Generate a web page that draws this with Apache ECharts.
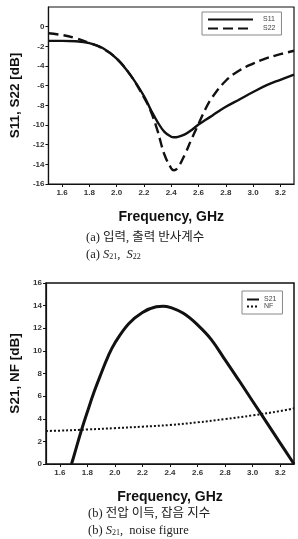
<!DOCTYPE html>
<html>
<head>
<meta charset="utf-8">
<script src="https://cdn.jsdelivr.net/npm/echarts@6/dist/echarts.min.js"></script>
<style>
  html, body { margin: 0; padding: 0; background: #fff; }
  #chart { width: 298px; height: 539px; }
</style>
</head>
<body>
<div id="chart"></div>
<script>
// top panel: reflection coefficients
const reflFreq = [1.5, 1.6, 1.7, 1.8, 1.9, 2.0, 2.1, 2.2, 2.25, 2.3, 2.35, 2.4, 2.42, 2.45, 2.5, 2.55, 2.6, 2.65, 2.7, 2.8, 2.9, 3.0, 3.1, 3.2, 3.3];
const s11 = [-1.44, -1.44, -1.48, -1.68, -2.2, -3.25, -4.9, -7.05, -8.45, -9.7, -10.7, -11.2, -11.25, -11.2, -10.95, -10.5, -9.95, -9.5, -9.05, -8.15, -7.4, -6.65, -5.95, -5.4, -4.87];
const s22 = [-0.67, -0.85, -1.17, -1.65, -2.25, -3.25, -4.9, -7.2, -8.6, -10.6, -13.0, -14.4, -14.6, -14.3, -13.0, -11.4, -9.9, -8.4, -7.2, -5.5, -4.45, -3.75, -3.2, -2.8, -2.45];

// bottom panel: gain and noise figure
const gainFreq = [1.685, 1.7, 1.75, 1.8, 1.85, 1.9, 1.95, 2.0, 2.1, 2.2, 2.3, 2.35, 2.4, 2.5, 2.6, 2.7, 2.8, 2.9, 3.0, 3.1, 3.2, 3.3];
const s21 = [0, 0.6, 2.7, 4.6, 6.4, 8.0, 9.5, 10.7, 12.4, 13.4, 13.9, 13.95, 13.85, 13.3, 12.3, 11.0, 9.2, 7.4, 5.55, 3.7, 1.85, 0];
const nfFreq = [1.5, 1.6, 1.8, 2.0, 2.2, 2.4, 2.6, 2.8, 3.0, 3.2, 3.3];
const nf = [2.92, 2.95, 3.05, 3.17, 3.3, 3.45, 3.68, 3.97, 4.3, 4.68, 4.92];

const freqTicks = [1.6, 1.8, 2.0, 2.2, 2.4, 2.6, 2.8, 3.0, 3.2];
const reflTicks = [-16, -14, -12, -10, -8, -6, -4, -2, 0];
const gainTicks = [0, 2, 4, 6, 8, 10, 12, 14, 16];

const pair = (xs, ys) => xs.map((x, i) => [x, ys[i]]);

const sans = '"Liberation Sans", Arial, sans-serif';
const serif = '"Liberation Serif", "Noto Sans CJK KR", serif';
const ink = '#111';

function xAxisFor(gridIndex) {
  return {
    type: 'value', gridIndex, min: 1.5, max: 3.3,
    name: 'Frequency, GHz', nameLocation: 'middle', nameGap: 26,
    nameTextStyle: { fontFamily: sans, fontSize: 14, fontWeight: 'bold', color: ink },
    axisLine: { onZero: false, lineStyle: { color: ink, width: 1.2 } },
    axisTick: { show: true, length: 3, customValues: freqTicks, lineStyle: { color: ink } },
    axisLabel: {
      customValues: freqTicks, margin: 5,
      fontFamily: sans, fontSize: 8, fontWeight: 'bold', color: '#333',
      formatter: v => v.toFixed(1)
    },
    splitLine: { show: false }
  };
}

function yAxisFor(gridIndex, min, max, ticks, name) {
  return {
    type: 'value', gridIndex, min, max, interval: 2,
    name, nameLocation: 'middle', nameGap: 24, nameRotate: 90,
    nameTextStyle: { fontFamily: sans, fontSize: 13.5, fontWeight: 'bold', color: ink },
    axisLine: { show: true, onZero: false, lineStyle: { color: ink, width: 1.2 } },
    axisTick: { show: true, length: 3, customValues: ticks, lineStyle: { color: ink } },
    axisLabel: {
      customValues: ticks, margin: 4,
      fontFamily: sans, fontSize: 8, fontWeight: 'bold', color: '#333'
    },
    splitLine: { show: false }
  };
}

const chart = echarts.init(document.getElementById('chart'));

chart.setOption({
  animation: false,
  backgroundColor: '#fff',
  color: [ink, ink, ink, ink],
  grid: [
    { left: 44, top: 7, right: 4, height: 177, show: true, borderColor: ink, borderWidth: 1.2 },
    { left: 42, top: 283, right: 4, height: 181, show: true, borderColor: ink, borderWidth: 1.5 }
  ],
  xAxis: [xAxisFor(0), xAxisFor(1)],
  yAxis: [
    yAxisFor(0, -16, 2, reflTicks, 'S11, S22 [dB]'),
    yAxisFor(1, 0, 16, gainTicks, 'S21, NF [dB]')
  ],
  legend: [
    {
      data: ['S11', 'S22'], orient: 'vertical', left: 202, top: 12,
      padding: [4, 6, 3, 5], itemGap: 2, itemWidth: 45, itemHeight: 8,
      borderColor: '#888', borderWidth: 1,
      itemStyle: { opacity: 0 },
      textStyle: { fontFamily: sans, fontSize: 7, color: '#444', padding: [0, 0, 0, 5] }
    },
    {
      data: ['S21', 'NF'], orient: 'vertical', left: 242, top: 291,
      padding: [5, 6, 4, 4], itemGap: 0, itemWidth: 12, itemHeight: 8,
      borderColor: '#888', borderWidth: 1,
      itemStyle: { opacity: 0 },
      textStyle: { fontFamily: sans, fontSize: 7, color: '#444' }
    }
  ],
  series: [
    {
      name: 'S11', type: 'line', xAxisIndex: 0, yAxisIndex: 0,
      data: pair(reflFreq, s11), smooth: 0.4, symbol: 'none',
      lineStyle: { color: ink, width: 2.4 }
    },
    {
      name: 'S22', type: 'line', xAxisIndex: 0, yAxisIndex: 0,
      data: pair(reflFreq, s22), smooth: 0.4, symbol: 'none',
      lineStyle: { color: ink, width: 2.4, type: [10, 5] }
    },
    {
      name: 'S21', type: 'line', xAxisIndex: 1, yAxisIndex: 1,
      data: pair(gainFreq, s21), smooth: 0.4, symbol: 'none',
      lineStyle: { color: ink, width: 3 }
    },
    {
      name: 'NF', type: 'line', xAxisIndex: 1, yAxisIndex: 1,
      data: pair(nfFreq, nf), smooth: 0.4, symbol: 'none',
      lineStyle: { color: ink, width: 2, type: [2, 2] }
    }
  ],
  graphic: [
    {
      type: 'text', left: 86, top: 231,
      style: { text: '(a) 입력, 출력 반사계수', font: '12.5px ' + serif, fill: '#222' }
    },
    {
      type: 'text', left: 86, top: 248,
      style: {
        text: '{n|(a) }{i|S}{s|21}{n|,  }{i|S}{s|22}',
        fill: '#222',
        rich: {
          n: { fontFamily: serif, fontSize: 12.5 },
          i: { fontFamily: serif, fontSize: 12.5, fontStyle: 'italic' },
          s: { fontFamily: serif, fontSize: 8, padding: [6, 0, 0, 0] }
        }
      }
    },
    {
      type: 'text', left: 88, top: 507,
      style: { text: '(b) 전압 이득, 잡음 지수', font: '12.5px ' + serif, fill: '#222' }
    },
    {
      type: 'text', left: 88, top: 524,
      style: {
        text: '{n|(b) }{i|S}{s|21}{n|,  noise figure}',
        fill: '#222',
        rich: {
          n: { fontFamily: serif, fontSize: 12.5 },
          i: { fontFamily: serif, fontSize: 12.5, fontStyle: 'italic' },
          s: { fontFamily: serif, fontSize: 8, padding: [6, 0, 0, 0] }
        }
      }
    }
  ]
});
</script>
</body>
</html>
